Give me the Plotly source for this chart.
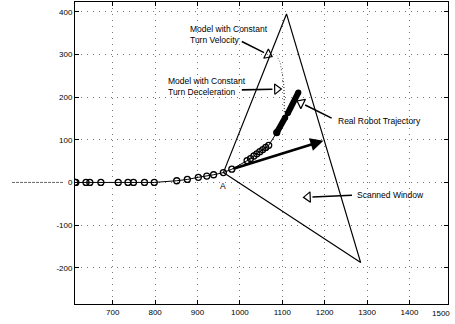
import numpy as np
import plotly.graph_objects as go

# ---- data ----
x_ticks = [700, 800, 900, 1000, 1100, 1200, 1300, 1400, 1500]
x_tick_text = ["700", "800", "900", "1000", "1100", "1200", "1300", "1400", "1500"]
y_ticks = [-200, -100, 0, 100, 200, 300, 400]
y_tick_text = ["-200", "-100", "0", "100", "200", "300", "400"]

# robot trajectory (circles)
traj_x = [611, 613, 637, 646, 672, 713, 736, 749, 775, 798, 851, 876, 902, 922, 938, 961,
          981, 1017, 1025, 1033, 1040, 1047, 1054, 1061, 1068, 1087]
traj_y = [0, 0, 0, 0, 0, 0, 0, 0, 0, 0, 4, 7, 12, 15, 18, 23,
          31, 51, 56, 62, 67, 72, 77, 82, 87, 117]
# dense (thick) parts of the trajectory
thick1_x = [1087, 1107]
thick1_y = [117, 152]
thick2_x = [1113, 1138]
thick2_y = [162, 211]

# model predictions (dotted)
vel_x = [1105, 1105, 1103, 1099, 1095, 1087]
vel_y = [165, 200, 238, 262, 281, 297]
dec_x = [1105, 1105, 1104, 1103, 1099]
dec_y = [165, 195, 220, 232, 240]

# scanned window triangle
win_x = [961, 1110, 1285, 961]
win_y = [23, 395, -188, 23]

# bold heading arrow
head_tail = (981, 31)
head_tip = (1197, 98)

# labelled arrows: (text, text_x, text_y, tail_x, tail_y, tip_x, tip_y)
labels = [
    ("Model with Constant<br>Turn Velocity", 877, 346, 1001, 332, 1076, 295),
    ("Model with Constant<br>Turn Deceleration", 826, 225, 1001, 217, 1098, 219),
    ("Real Robot Trajectory", 1226, 145, 1220, 149, 1135, 191),
    ("Scanned Window", 1272, -30, 1268, -30, 1150, -35),
]

x_range = [611, 1491]
y_range = [-285, 423]

W, H = 455, 324
ML, MR, MT, MB = 75, 7, 2, 20
pw, ph = W - ML - MR, H - MT - MB
sx = pw / (x_range[1] - x_range[0])
sy = ph / (y_range[1] - y_range[0])

FONT = "Liberation Sans, Arial, sans-serif"

fig = go.Figure()

fig.add_trace(go.Scatter(x=win_x, y=win_y, mode="lines",
                         line=dict(color="black", width=1.2), hoverinfo="skip"))
fig.add_trace(go.Scatter(x=vel_x, y=vel_y, mode="lines",
                         line=dict(color="#555", width=1, dash="1px,2px"), hoverinfo="skip"))
fig.add_trace(go.Scatter(x=dec_x, y=dec_y, mode="lines",
                         line=dict(color="#555", width=1, dash="1px,2px"), hoverinfo="skip"))
fig.add_trace(go.Scatter(x=traj_x, y=traj_y, mode="lines+markers",
                         line=dict(color="black", width=1),
                         marker=dict(symbol="circle-open", size=6, color="black",
                                     line=dict(width=1.3)), hoverinfo="skip"))
for tx, ty in [(thick1_x, thick1_y), (thick2_x, thick2_y)]:
    fig.add_trace(go.Scatter(x=tx, y=ty, mode="lines+markers",
                             line=dict(color="black", width=6),
                             marker=dict(size=6, color="black"), hoverinfo="skip"))

annotations = []
head_x, head_y, head_ang = [], [], []
for text, tx, ty, ax0, ay0, ux, uy in labels:
    annotations.append(dict(x=tx, y=ty, xref="x", yref="y", text=text, showarrow=False,
                            xanchor="left", yanchor="middle", align="left",
                            font=dict(family=FONT, size=8.5, color="black")))
    dxp = (ux - ax0) * sx
    dyp = (uy - ay0) * sy
    L = np.hypot(dxp, dyp)
    bx = ux - dxp / L * 9 / sx
    by = uy - dyp / L * 9 / sy
    annotations.append(dict(x=bx, y=by, ax=ax0, ay=ay0, xref="x", yref="y",
                            axref="x", ayref="y", text="", showarrow=True,
                            arrowhead=0, arrowwidth=1.6, arrowcolor="black"))
    cx = ux - dxp / L * 4.5 / sx
    cy = uy - dyp / L * 4.5 / sy
    head_x.append(cx)
    head_y.append(cy)
    head_ang.append(float(np.degrees(np.arctan2(dxp, dyp))))

fig.add_trace(go.Scatter(x=head_x, y=head_y, mode="markers",
                         marker=dict(symbol="triangle-up-open", size=9, color="black",
                                     angle=head_ang, line=dict(width=1.2)),
                         hoverinfo="skip"))

annotations.append(dict(x=head_tip[0], y=head_tip[1], ax=head_tail[0], ay=head_tail[1],
                        xref="x", yref="y", axref="x", ayref="y", text="",
                        showarrow=True, arrowhead=2, arrowsize=1.0, arrowwidth=2.6,
                        arrowcolor="black"))
annotations.append(dict(x=961, y=-8, xref="x", yref="y", text="A", showarrow=False,
                        font=dict(family=FONT, size=8.5, color="black")))
# partially visible 1500 label beyond the right edge
annotations.append(dict(x=(x_ticks[-1] - x_range[0]) / (x_range[1] - x_range[0]), y=0,
                        xref="paper", yref="paper", yanchor="top", yshift=-3,
                        text=x_tick_text[-1], showarrow=False,
                        font=dict(family=FONT, size=8, color="black")))

shapes = [dict(type="line", xref="paper", yref="paper",
               x0=(12 - ML) / pw, x1=(64 - ML) / pw,
               y0=(0 - y_range[0]) / (y_range[1] - y_range[0]),
               y1=(0 - y_range[0]) / (y_range[1] - y_range[0]),
               line=dict(color="#666", width=1, dash="3px,1px"))]

axis_common = dict(showline=True, linecolor="black", linewidth=1, mirror="ticks",
                   ticks="inside", ticklen=4, tickcolor="black",
                   showgrid=True, gridcolor="#777", gridwidth=1, griddash="1px,5px",
                   zeroline=False, tickfont=dict(family=FONT, size=8, color="black"))

fig.update_xaxes(range=x_range, tickvals=x_ticks, ticktext=x_tick_text, **axis_common)
fig.update_yaxes(range=y_range, tickvals=y_ticks, ticktext=y_tick_text, **axis_common)

fig.update_layout(width=W, height=H, margin=dict(l=ML, r=MR, t=MT, b=MB),
                  paper_bgcolor="white", plot_bgcolor="white", showlegend=False,
                  annotations=annotations, shapes=shapes)

fig.write_html("out.html", config={"displayModeBar": False},
               post_script="document.body.style.margin='0';")
